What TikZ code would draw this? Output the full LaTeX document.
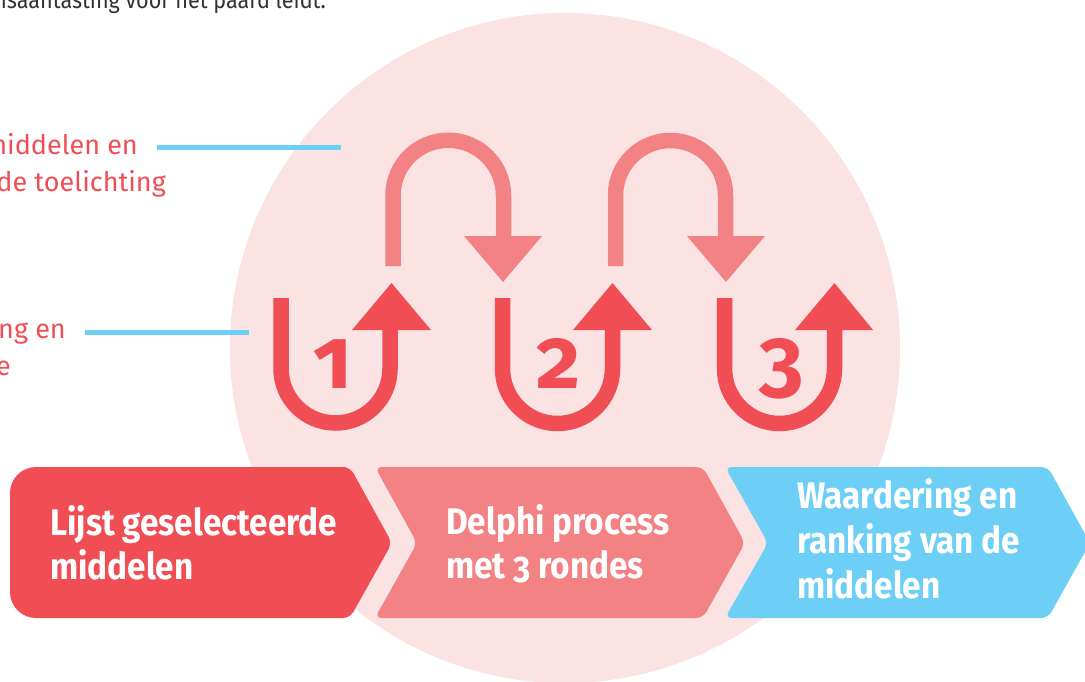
\documentclass[tikz,border=0pt]{standalone}
\usepackage{fontspec}
\setmainfont{Fira Sans}[Numbers=OldStyle]
\newfontfamily\boxfont{Fira Sans}[Numbers=OldStyle, FakeStretch=0.9]
\definecolor{cPink}{HTML}{FBE3E4}
\definecolor{cRed}{HTML}{F04E54}
\definecolor{cLRed}{HTML}{F38284}
\definecolor{cBlue}{HTML}{6DCFF6}
\definecolor{cDark}{HTML}{333333}
\tikzset{
  loopline/.style={draw=cRed, line width=15.5pt, line cap=butt},
  archline/.style={draw=cLRed, line width=15.5pt, line cap=butt},
  leader/.style={draw=cBlue, line width=5pt},
  lbl/.style={text=cRed, font=\fontsize{27}{32}\selectfont, inner sep=0pt},
  boxtxt/.style={text=white, font=\boxfont\fontsize{37}{44}\selectfont\bfseries, inner sep=0pt, anchor=base west},
  num/.style={text=cRed, font=\fontsize{86}{86}\selectfont\bfseries, inner sep=0pt, anchor=base}
}
\begin{document}
\begin{tikzpicture}[x=1pt, y=-1pt]
\useasboundingbox (0,0) rectangle (1085,682);
\clip (0,0) rectangle (1085,682);
% background circle
\fill[cPink] (565,348) circle (335pt);
% top text
\node[text=cDark, font=\boxfont\fontsize{24}{28}\selectfont, inner sep=0pt, anchor=base east] (toptext) at (326,9) {isaantasting voor het paard leidt.};
% left labels
\node[lbl, anchor=base east] (l1a) at (138,155) {middelen en};
\node[lbl, anchor=base east] (l1b) at (166,192) {de toelichting};
\node[lbl, anchor=base east] (l2a) at (66,338) {ng en};
\node[lbl, anchor=base east] (l2b) at (11,375) {e};
% leader lines
\coordinate (a1s) at (157,148); \coordinate (a1e) at (341,148);
\coordinate (a2s) at (85,332); \coordinate (a2e) at (249,332);
\draw[leader] (a1s) -- (a1e);
\draw[leader] (a2s) -- (a2e);
% loops (U shapes, arrow up)
\draw[loopline] (281,298) -- (281,368.5) arc(180:360:54.5pt) -- (390,330);
\fill[cRed] (352,330) -- (431,330) -- (391.5,283) -- cycle;
\draw[loopline] (502.5,298) -- (502.5,368.5) arc(180:360:55pt) -- (612.5,330);
\fill[cRed] (573,330) -- (652,330) -- (612.5,283) -- cycle;
\draw[loopline] (724.5,298) -- (724.5,368.5) arc(180:360:55pt) -- (834.5,330);
\fill[cRed] (795,330) -- (873,330) -- (834.5,283) -- cycle;
% arches (arrow down)
\draw[archline] (393,266) -- (393,195.5) arc(180:0:55.25pt) -- (503.5,236);
\fill[cLRed] (464,236) -- (542,236) -- (503,282) -- cycle;
\draw[archline] (615.5,266) -- (615.5,195.5) arc(180:0:55pt) -- (725.5,236);
\fill[cLRed] (687,236) -- (765,236) -- (726,282) -- cycle;
% numbers
\node[num] (n1) at (333,388) {1};
\node[num] (n2) at (559,388) {2};
\node[num] (n3) at (782,388) {3};
% chevrons
\fill[cRed] (180,467) [rounded corners=7pt] -- (350,467) -- (392,543) -- (350,618) [rounded corners=26pt] -- (10,618) -- (10,467) [rounded corners=7pt] -- cycle;
\fill[cLRed] (550,467) [rounded corners=7pt] -- (703,467) -- (745,543) -- (703,618) -- (375,618) -- (417,543) -- (375,467) -- cycle;
\fill[cBlue] (900,467) [rounded corners=7pt] -- (1048,467) -- (1090,543) -- (1048,618) -- (725,618) -- (768,543) -- (725,467) -- cycle;
% box texts
\node[boxtxt] (b1a) at (50,535) {Lijst geselecteerde};
\node[boxtxt] (b1b) at (50,579) {middelen};
\node[boxtxt] (b2a) at (446,534) {Delphi process};
\node[boxtxt] (b2b) at (446,578) {met 3 rondes};
\node[boxtxt] (b3a) at (797,508) {Waardering en};
\node[boxtxt] (b3b) at (797,553) {ranking van de};
\node[boxtxt] (b3c) at (797,598) {middelen};
\end{tikzpicture}
\end{document}
